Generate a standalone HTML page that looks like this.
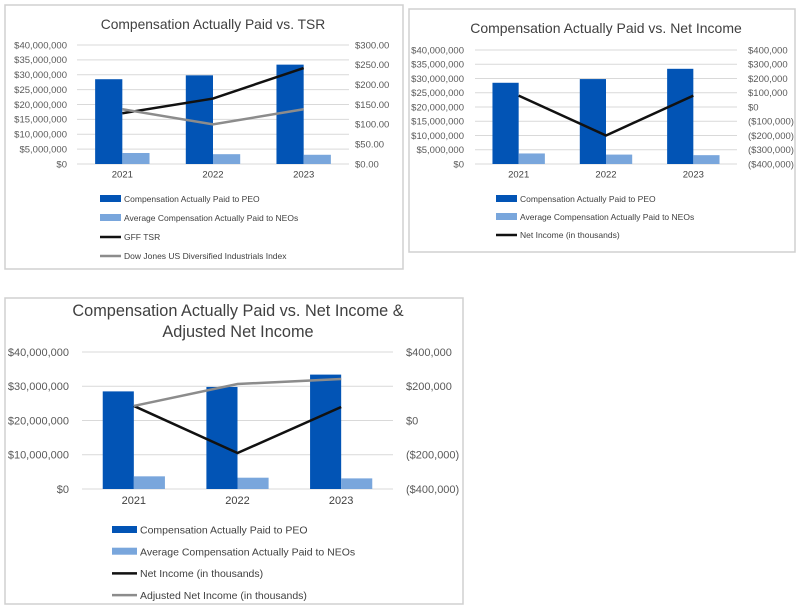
<!DOCTYPE html>
<html><head><meta charset="utf-8"><style>
body{margin:0;background:#fff;width:800px;height:606px;overflow:hidden;font-family:"Liberation Sans",sans-serif}
svg{position:absolute;left:0;top:0}
</style></head><body>
<svg id="s" width="800" height="606"></svg>
<script>
const years=["2021","2022","2023"];
const peoValues=[28500000,29800000,33400000];
const neoValues=[3700000,3300000,3100000];
const tsrValues=[128,165,242];
const djValues=[138,100,138];
const netIncome1=[80000,-200000,80000];
const netIncome2=[85000,-190000,79000];
const adjNetIncome=[85000,213000,242000];
const leftTicks1=[0,5e6,10e6,15e6,20e6,25e6,30e6,35e6,40e6];
const rightTicks1=[0,50,100,150,200,250,300];
const rightTicks2=[-400000,-300000,-200000,-100000,0,100000,200000,300000,400000];
const leftTicks3=[0,10e6,20e6,30e6,40e6];
const rightTicks3=[-400000,-200000,0,200000,400000];

const NS="http://www.w3.org/2000/svg";
const svg=document.getElementById('s');
function el(t,a,p){const e=document.createElementNS(NS,t);for(const k in a)e.setAttribute(k,a[k]);(p||svg).appendChild(e);return e;}
function money(v){return "$"+v.toLocaleString('en-US');}
function paren(v){return v<0?"($"+Math.abs(v).toLocaleString('en-US')+")":"$"+v.toLocaleString('en-US');}
function money2(v){return "$"+v.toFixed(2);}

function chart(c){
  const g=el('g',{});
  
  
  const b=el('rect',{x:c.box[0],y:c.box[1],width:c.box[2],height:c.box[3],fill:'#fff',stroke:'#d0d0d0','stroke-width':1.5},g);
  
  c.title.forEach((t,i)=>{const e=el('text',{x:c.titleX,y:c.titleY+i*c.titleFs*1.3,'text-anchor':'middle','font-size':c.titleFs,fill:'#404040'},g);e.textContent=t;
    });
  const lmin=c.lt[0],lmax=c.lt[c.lt.length-1],rmin=c.rt[0],rmax=c.rt[c.rt.length-1];
  const yL=v=>c.y0-(v-lmin)/(lmax-lmin)*(c.y0-c.y1);
  const yR=v=>c.y0-(v-rmin)/(rmax-rmin)*(c.y0-c.y1);
  const cw=(c.x1-c.x0)/years.length;
  const xC=i=>c.x0+cw*(i+0.5);
  c.lt.forEach(v=>{const y=yL(v);
    const l=el('line',{x1:c.x0,x2:c.x1,y1:y,y2:y,stroke:'#d9d9d9','stroke-width':1},g);
    const t=el('text',{x:c.lx,y:y+c.fs*0.35,'text-anchor':'end','font-size':c.fs,fill:'#595959'},g);t.textContent=money(v);
    });
  c.rt.forEach(v=>{const y=yR(v);
    const t=el('text',{x:c.rx,y:y+c.fs*0.35,'font-size':c.fs,fill:'#595959'},g);t.textContent=c.rfmt(v);
    });
  const bw=cw*0.3;
  years.forEach((yr,i)=>{
    const r1=el('rect',{x:xC(i)-bw,y:yL(peoValues[i]),width:bw,height:c.y0-yL(peoValues[i]),fill:'#0254b5'},g);
    
    const r2=el('rect',{x:xC(i),y:yL(neoValues[i]),width:bw,height:c.y0-yL(neoValues[i]),fill:'#79a6dc'},g);
    
    const t=el('text',{x:xC(i),y:c.y0+c.fs+4,'text-anchor':'middle','font-size':c.fs,fill:'#404040'},g);t.textContent=yr;
    });
  c.lines.forEach(L=>{const p=el('polyline',{points:L.data.map((v,i)=>xC(i)+','+yR(v)).join(' '),fill:'none',stroke:L.color,'stroke-width':2.5},g);
    });
  c.legend.forEach((L,i)=>{const y=c.legY+i*c.legDy;
    let s;
    if(L.t==='bar'){s=el('rect',{x:c.legX,y:y-4,width:c.legW,height:7,fill:L.color},g);}
    else{s=el('line',{x1:c.legX,x2:c.legX+c.legW,y1:y,y2:y,stroke:L.color,'stroke-width':2.5},g);}
    
    const t=el('text',{x:c.legX+c.legW+3,y:y+c.legFs*0.35,'font-size':c.legFs,fill:'#404040'},g);t.textContent=L.label;
    });
}
const legBars=[{t:'bar',color:'#0254b5',label:'Compensation Actually Paid to PEO'},{t:'bar',color:'#79a6dc',label:'Average Compensation Actually Paid to NEOs'}];
chart({name:'chart-cap-vs-tsr',box:[5,5,398,264],title:['Compensation Actually Paid vs. TSR'],titleX:213,titleY:29,titleFs:13.8,
  x0:77,x1:349,y0:164,y1:45,lt:leftTicks1,rt:rightTicks1,rfmt:money2,lx:67,rx:355,fs:9.5,
  lines:[{data:tsrValues,color:'#111',name:'line-gff-tsr'},{data:djValues,color:'#8c8c8c',name:'line-dow-jones'}],
  legend:legBars.concat([{t:'line',color:'#111',label:'GFF TSR'},{t:'line',color:'#8c8c8c',label:'Dow Jones US Diversified Industrials Index'}]),
  legX:100,legW:21,legY:199,legDy:19,legFs:8.5});
chart({name:'chart-cap-vs-net-income',box:[409,9,386,243],title:['Compensation Actually Paid vs. Net Income'],titleX:606,titleY:33,titleFs:14,
  x0:475,x1:737,y0:164,y1:50,lt:leftTicks1,rt:rightTicks2,rfmt:paren,lx:464,rx:748,fs:9.5,
  lines:[{data:netIncome1,color:'#111',name:'line-net-income'}],
  legend:legBars.concat([{t:'line',color:'#111',label:'Net Income (in thousands)'}]),
  legX:496,legW:21,legY:199,legDy:18,legFs:8.5});
chart({name:'chart-cap-vs-adjusted-net-income',box:[5,298,458,306],title:['Compensation Actually Paid vs. Net Income &','Adjusted Net Income'],titleX:238,titleY:316,titleFs:16.3,
  x0:82,x1:393,y0:489,y1:352,lt:leftTicks3,rt:rightTicks3,rfmt:paren,lx:69,rx:406,fs:11,
  lines:[{data:netIncome2,color:'#111',name:'line-net-income'},{data:adjNetIncome,color:'#8c8c8c',name:'line-adjusted-net-income'}],
  legend:legBars.concat([{t:'line',color:'#111',label:'Net Income (in thousands)'},{t:'line',color:'#8c8c8c',label:'Adjusted Net Income (in thousands)'}]),
  legX:112,legW:25,legY:530,legDy:21.7,legFs:10.5});
</script>
</body></html>
